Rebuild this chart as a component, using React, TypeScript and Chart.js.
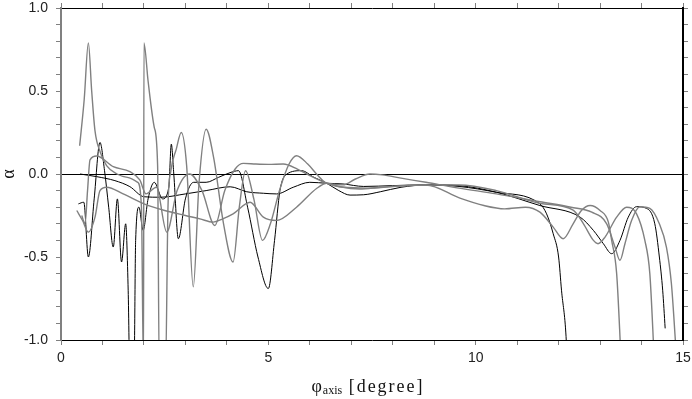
import React, { useEffect, useRef } from "react";
import { Chart, registerables } from "chart.js";
Chart.register(...registerables);

// ---- data ----
const curve1: number[][] = [
  [0.45, 0.17], [0.56, 0.45], [0.66, 0.79], [0.74, 0.5], [0.82, 0.26], [0.95, 0.13], [1.1, 0.05], [1.35, 0.0],
  [1.6, -0.02], [1.85, -0.05], [1.94, -0.2], [1.99, -1.2], [2.0, 0.79], [2.1, 0.56], [2.25, 0.28], [2.33, 0.05],
  [2.37, -1.2], [2.52, -1.2], [2.58, -0.2], [2.65, 0.02], [2.78, 0.15], [2.9, 0.25], [3.03, 0.05], [3.19, -0.68],
  [3.33, -0.05], [3.5, 0.27], [3.68, 0.1], [3.92, -0.3], [4.15, -0.53], [4.3, -0.2], [4.45, 0.02], [4.65, -0.15],
  [4.86, -0.4], [5.05, -0.3], [5.28, -0.09], [5.5, 0.06], [5.68, 0.11], [5.95, 0.06], [6.2, -0.01], [6.41, -0.056],
  [6.8, -0.065], [7.1, -0.03], [7.45, 0.0], [7.75, -0.005], [8.2, -0.025], [8.8, -0.05], [9.6, -0.085], [10.5, -0.12],
  [11.55, -0.167], [12.3, -0.2], [12.8, -0.23], [13.16, -0.3], [13.36, -0.44], [13.48, -0.52], [13.6, -0.42],
  [13.76, -0.28], [13.96, -0.197], [14.2, -0.207], [14.43, -0.3], [14.6, -0.44], [14.72, -0.66], [14.81, -0.98], [14.84, -1.1],
];
const curve2: number[][] = [
  [0.42, -0.18], [0.55, -0.17], [0.66, -0.5], [0.8, -0.15], [0.94, 0.19], [1.05, 0.02], [1.15, -0.2], [1.26, -0.44],
  [1.36, -0.15], [1.46, -0.53], [1.56, -0.3], [1.62, -0.7], [1.66, -1.2], [1.76, -1.2], [1.8, -0.4], [1.88, -0.2],
  [1.98, -0.34], [2.1, -0.15], [2.25, -0.05], [2.45, -0.15], [2.6, -0.08], [2.66, 0.18], [2.72, 0.0], [2.83, -0.39],
  [3.0, -0.15], [3.2, -0.05], [3.5, -0.05], [3.8, -0.02], [4.1, 0.01], [4.28, 0.02], [4.5, -0.2], [4.75, -0.5],
  [5.0, -0.69], [5.15, -0.4], [5.28, -0.1], [5.45, 0.0], [5.8, 0.02], [6.1, -0.02], [6.41, -0.056], [6.7, -0.1],
  [6.97, -0.127], [7.3, -0.125], [7.7, -0.107], [8.2, -0.08], [8.8, -0.066], [9.6, -0.075], [10.5, -0.11],
  [11.55, -0.18], [11.71, -0.24], [11.87, -0.36], [12.0, -0.5], [12.07, -0.7], [12.18, -0.98], [12.2, -1.1],
];
const curve3: number[][] = [
  [0.38, -0.22], [0.52, -0.28], [0.66, -0.35], [0.82, -0.26], [0.94, -0.1], [1.1, -0.08], [1.5, -0.12], [2.0, -0.18],
  [2.5, -0.22], [3.0, -0.25], [3.35, -0.27], [3.67, -0.29], [3.9, -0.27], [4.15, -0.24], [4.56, -0.17], [4.88, -0.26],
  [5.2, -0.28], [5.68, -0.2], [6.17, -0.086], [6.41, -0.056], [6.7, -0.075], [7.2, -0.09], [7.7, -0.08], [8.3, -0.07],
  [8.8, -0.066], [9.62, -0.145], [10.2, -0.19], [10.7, -0.21], [11.2, -0.2], [11.55, -0.23], [11.87, -0.32],
  [12.11, -0.39], [12.35, -0.3], [12.55, -0.22], [12.76, -0.19], [13.0, -0.22], [13.2, -0.29], [13.28, -0.4],
  [13.4, -0.6], [13.48, -0.98], [13.5, -1.1],
];
const curve4: number[][] = [
  [0.5, -0.25], [0.58, -0.3], [0.64, -0.1], [0.7, 0.085], [0.86, 0.108], [1.26, 0.044], [1.66, 0.014], [1.9, -0.036],
  [2.05, -0.12], [2.3, -0.08], [2.55, -0.35], [2.8, -0.1], [3.1, 0.0], [3.4, -0.1], [3.71, -0.31], [3.95, -0.1],
  [4.2, 0.03], [4.4, 0.064], [4.7, 0.06], [5.0, 0.058], [5.36, 0.06], [5.7, 0.03], [6.0, -0.01], [6.41, -0.056],
  [6.8, -0.08], [7.4, -0.085], [8.0, -0.075], [8.8, -0.066], [9.6, -0.066], [10.5, -0.1], [11.55, -0.177],
  [12.35, -0.217], [12.6, -0.3], [12.84, -0.4], [12.95, -0.42], [13.12, -0.38], [13.4, -0.26], [13.64, -0.2],
  [13.88, -0.24], [14.08, -0.4], [14.2, -0.6], [14.28, -0.98], [14.3, -1.1],
];
const curve5: number[][] = [
  [0.46, 0.0], [0.86, -0.016], [1.3, -0.04], [1.66, -0.076], [2.0, -0.137], [2.4, -0.14], [3.0, -0.12], [3.5, -0.1],
  [4.08, -0.077], [4.48, -0.107], [4.88, -0.116], [5.2, -0.12], [5.6, -0.08], [6.0, -0.05], [6.41, -0.056],
  [6.8, -0.06], [7.3, -0.075], [8.0, -0.07], [8.8, -0.065], [9.6, -0.07], [10.5, -0.11], [11.55, -0.19],
  [12.52, -0.26], [12.84, -0.34], [13.08, -0.42], [13.28, -0.48], [13.48, -0.4], [13.68, -0.26], [13.88, -0.197],
  [14.12, -0.207], [14.32, -0.3], [14.43, -0.5], [14.51, -0.7], [14.57, -0.93],
];
const xMin = 0, xMax = 15, xStep = 1, xLabelEvery = 5;
const yMin = -1, yMax = 1, yStep = 0.1;
const xTitleMain = "φ";
const xTitleSub = "axis";
const xTitleUnit = " [degree]";
const yTitle = "α";

const GRAY = "#808080";
const BLACK = "#000000";

const titlePlugin = {
  id: "xTitle",
  afterDraw(chart: any) {
    const { ctx, chartArea } = chart;
    ctx.save();
    ctx.fillStyle = "#111";
    ctx.textBaseline = "alphabetic";
    const big = '18px "Liberation Serif", "DejaVu Serif", serif';
    const small = '12px "Liberation Serif", "DejaVu Serif", serif';
    ctx.font = big;
    const w1 = ctx.measureText(xTitleMain).width;
    ctx.font = small;
    const w2 = ctx.measureText(xTitleSub).width;
    ctx.font = big;
    (ctx as any).letterSpacing = "2px";
    const w3 = ctx.measureText(xTitleUnit).width;
    (ctx as any).letterSpacing = "0px";
    const total = w1 + 1 + w2 + w3;
    let x = (chartArea.left + chartArea.right) / 2 - 4 - total / 2;
    const base = chartArea.bottom + 52;
    ctx.font = big;
    ctx.fillText(xTitleMain, x, base);
    x += w1 + 1;
    ctx.font = small;
    ctx.fillText(xTitleSub, x, base + 2);
    x += w2;
    ctx.font = big;
    (ctx as any).letterSpacing = "2px";
    ctx.fillText(xTitleUnit, x, base);
    ctx.restore();
  },
};

export default function App() {
  const ref = useRef<HTMLCanvasElement | null>(null);
  useEffect(() => {
    if (!ref.current) return;
    const mk = (pts: number[][], color: string, w: number) => ({
      data: pts.map((p) => ({ x: p[0], y: p[1] })),
      borderColor: color,
      borderWidth: w,
      pointRadius: 0,
      fill: false,
      cubicInterpolationMode: "monotone" as const,
    });
    const tickFont = { family: '"Liberation Sans", Arial, sans-serif', size: 14 };
    const chart = new Chart(ref.current, {
      type: "line",
      data: {
        datasets: [
          mk(curve3, GRAY, 1.4),
          mk(curve4, GRAY, 1.4),
          mk(curve1, GRAY, 1.4),
          mk(curve5, BLACK, 1),
          mk(curve2, BLACK, 1),
        ],
      },
      plugins: [titlePlugin],
      options: {
        animation: false,
        responsive: false,
        maintainAspectRatio: false,
        layout: { padding: 0 },
        plugins: { legend: { display: false }, tooltip: { enabled: false } },
        scales: {
          x: {
            type: "linear",
            position: "bottom",
            min: xMin,
            max: xMax,
            ticks: {
              stepSize: xStep,
              autoSkip: false,
              maxRotation: 0,
              padding: 5,
              color: "#222",
              font: tickFont,
              callback: (v: any) => (Math.round(v) % xLabelEvery === 0 ? String(Math.round(v)) : ""),
            },
            grid: { drawOnChartArea: false, drawTicks: true, tickLength: 5, tickColor: GRAY, color: GRAY },
            border: { color: BLACK, width: 1 },
            afterFit: (s: any) => { s.height = 59; s.paddingLeft = 0; s.paddingRight = 0; },
          },
          x2: {
            type: "linear",
            position: "top",
            min: xMin,
            max: xMax,
            ticks: { stepSize: xStep, autoSkip: false, maxRotation: 0, callback: () => "" },
            grid: { drawOnChartArea: false, drawTicks: true, tickLength: 5, tickColor: GRAY },
            border: { color: BLACK, width: 1 },
            afterFit: (s: any) => { s.height = 8; s.paddingLeft = 0; s.paddingRight = 0; },
          },
          y: {
            type: "linear",
            position: "left",
            min: yMin,
            max: yMax,
            ticks: {
              stepSize: yStep,
              autoSkip: false,
              padding: 8,
              color: "#222",
              font: tickFont,
              callback: (v: any) => {
                const t = Math.round(Number(v) * 10);
                return t % 5 === 0 ? (t / 10).toFixed(1) : "";
              },
            },
            grid: {
              drawOnChartArea: true,
              drawTicks: true,
              tickLength: 5,
              tickColor: GRAY,
              color: (c: any) => (c.tick && Math.abs(c.tick.value) < 1e-9 ? BLACK : "rgba(0,0,0,0)"),
              lineWidth: 1,
            },
            border: { color: GRAY, width: 2 },
            title: {
              display: true,
              text: yTitle,
              color: "#111",
              padding: 0,
              font: { family: '"Liberation Serif", "DejaVu Serif", serif', size: 18, lineHeight: 1 },
            },
            afterFit: (s: any) => { s.width = 61; s.paddingTop = 0; s.paddingBottom = 0; },
          },
          y2: {
            type: "linear",
            position: "right",
            min: yMin,
            max: yMax,
            ticks: { stepSize: yStep, autoSkip: false, callback: () => "" },
            grid: { drawOnChartArea: false, drawTicks: true, tickLength: 5, tickColor: GRAY },
            border: { color: BLACK, width: 2 },
            afterFit: (s: any) => { s.width = 9; s.paddingTop = 0; s.paddingBottom = 0; },
          },
        },
      } as any,
    });
    return () => chart.destroy();
  }, []);
  return (
    <div style={{ position: "fixed", left: 0, top: 0, width: 692, height: 399, background: "#fff" }}>
      <canvas ref={ref} width={692} height={399} style={{ width: 692, height: 399, display: "block" }} />
    </div>
  );
}
